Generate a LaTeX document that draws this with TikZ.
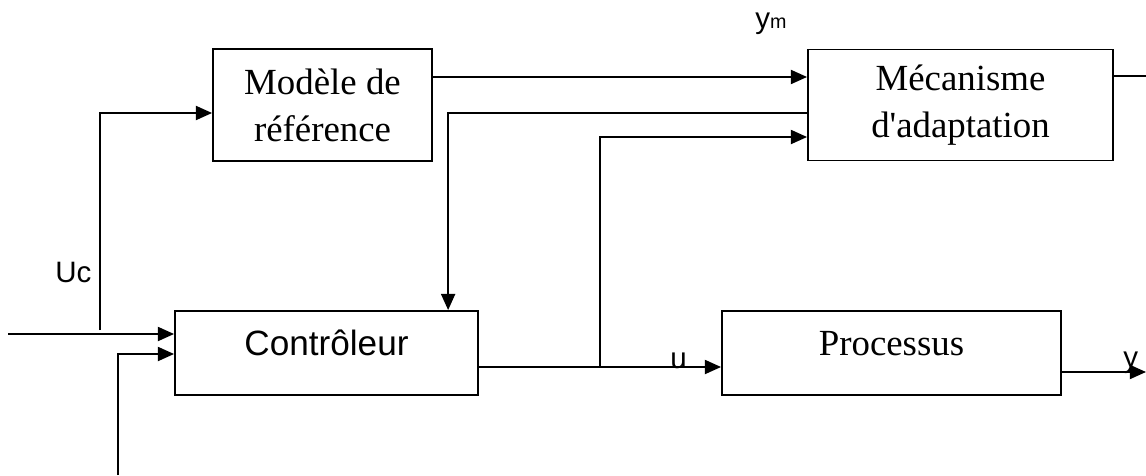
\documentclass[tikz,border=0pt]{standalone}
\usepackage{fontspec}
\setmainfont{Liberation Serif}[Ligatures=TeXOff]
\setsansfont{Liberation Sans}
\usepackage{xcolor}
\usepackage{tikz}
\usetikzlibrary{arrows.meta}
\tikzset{
    block/.style={draw=black, line width=1.3pt, align=center, font=\fontsize{26.2}{33.4}\selectfont, inner sep=0pt},
    lowblock/.style={block, text height=0.5cm, text depth=0.4cm},
    arrow/.style={-{Triangle[length=11.5pt, width=10pt]}, line width=1.3pt},
    line/.style={line width=1.3pt},
    lbl/.style={font=\sffamily\fontsize{21}{21}\selectfont, inner sep=0pt}
}

\begin{document}
\begin{tikzpicture}[x=0.025cm, y=0.025cm]
\useasboundingbox (0,0) rectangle (1146,475);
\node[block, minimum width=5.475cm, minimum height=2.8cm] (modele) at (322.5,370) {Modèle de\\référence};
\node[block, minimum width=7.625cm, minimum height=2.775cm] (mecanisme) at (960.5,370) {Mécanisme\\d'adaptation};
\node[lowblock, minimum width=7.575cm, minimum height=2.1cm, font=\sffamily\fontsize{25}{25}\selectfont] (controleur) at (326.5,122) {Contrôleur};
\node[lowblock, minimum width=8.475cm, minimum height=2.1cm] (processus) at (891.5,122) {Processus};
\coordinate (in1) at (8,141);
\coordinate (in2) at (118,0);
\coordinate (ucfoot) at (100,145);
\coordinate (tap) at (600,108);
\coordinate (out1) at (1146,399);
\coordinate (out2) at (1146,103);
\draw[arrow] (in1) -- (in1 -| controleur.west);
\draw[arrow] (in2) |- ([yshift=-0.025cm]controleur.west);
\draw[arrow] (ucfoot) |- ([yshift=-0.2cm]modele.west);
\draw[arrow] ([yshift=0.7cm]modele.east) -- ([yshift=0.7cm]modele.east -| mecanisme.west);
\draw[arrow] ([yshift=-0.2cm]mecanisme.west) -| ([xshift=3.04cm]controleur.north);
\draw[arrow] ([yshift=-0.35cm]controleur.east) -- ([yshift=-0.35cm]controleur.east -| processus.west);
\draw[arrow] (tap) |- ([yshift=-0.8cm]mecanisme.west);
\draw[line] ([yshift=0.725cm]mecanisme.east) -- (out1);
\draw[arrow] ([yshift=-0.475cm]processus.east) -- (out2);
\node[lbl, anchor=base west] (ym) at (755,446) {y{\fontsize{14}{14}\selectfont m}};
\node[lbl, anchor=base west] (uc) at (55,192) {Uc};
\node[lbl, anchor=base west] (u) at (670,107) {u};
\node[lbl, anchor=base west] (y) at (1123,108) {y};
\end{tikzpicture}
\end{document}
